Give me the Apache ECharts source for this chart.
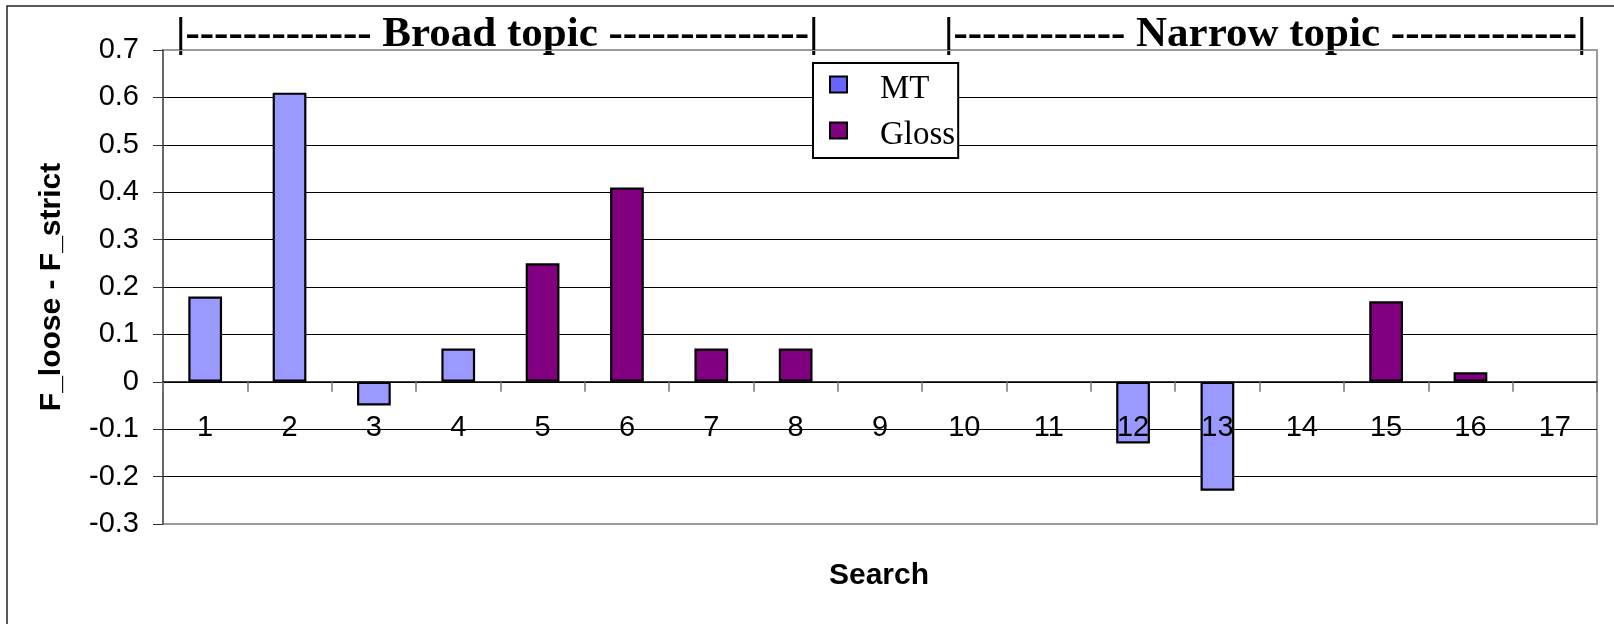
<!DOCTYPE html>
<html>
<head>
<meta charset="utf-8">
<script src="https://cdn.jsdelivr.net/npm/echarts@6/dist/echarts.min.js"></script>
<style>
  html, body { margin: 0; padding: 0; background: #fff; }
  #chart { width: 1614px; height: 624px; }
</style>
</head>
<body>
<div id="chart"></div>
<script>
// Search runs 1..17
const categories = ['1', '2', '3', '4', '5', '6', '7', '8', '9', '10', '11', '12', '13', '14', '15', '16', '17'];
// F_loose - F_strict per search (null = no bar)
const mtValues    = [0.18, 0.61, -0.05, 0.07, null, null, null, null, null, null, null, -0.13, -0.23, null, null, null, null];
const glossValues = [null, null, null, null, 0.25, 0.41, 0.07, 0.07, null, null, null, null, null, null, 0.17, 0.02, null];
const yTicks = { min: -0.3, max: 0.7, step: 0.1 };
const broadHeader  = '|------------- Broad topic --------------|';
const narrowHeader = '|------------ Narrow topic -------------|';

const SANS = '"Liberation Sans", Arial, sans-serif';
const SERIF = '"Liberation Serif", "Times New Roman", serif';

const GRID = { left: 163, top: 50, right: 17, bottom: 100 };
const PLOT_H = 624 - GRID.top - GRID.bottom;
// lift the category axis from the bottom edge up to the zero line
const zeroOffset = -PLOT_H * (0 - yTicks.min) / (yTicks.max - yTicks.min);

const chart = echarts.init(document.getElementById('chart'), null, { renderer: 'canvas' });

// eleven horizontal lines: frame-coloured at the two ends, black inside
const gridLineColors = [];
for (let i = 0; i <= 10; i++) gridLineColors.push(i === 0 || i === 10 ? '#9a9a9a' : '#000');

chart.setOption({
  animation: false,
  backgroundColor: '#fff',
  grid: Object.assign({}, GRID, {
    show: true, borderColor: '#9a9a9a', borderWidth: 2, backgroundColor: 'transparent'
  }),
  legend: {
    orient: 'vertical',
    left: 813, top: 63,
    backgroundColor: '#fff',
    borderColor: '#000', borderWidth: 2,
    padding: [10, 3, 6, 16],
    itemWidth: 17, itemHeight: 16, itemGap: 13,
    icon: 'rect',
    formatter: name => '{t|' + name + '}',
    textStyle: {
      fontFamily: SERIF, fontSize: 33, color: '#000',
      rich: { t: { fontFamily: SERIF, fontSize: 33, color: '#000', padding: [10, 0, 0, 28] } }
    },
    data: [
      { name: 'MT', itemStyle: { color: '#6666ff', borderColor: '#000', borderWidth: 2 } },
      { name: 'Gloss', itemStyle: { color: '#800080', borderColor: '#000', borderWidth: 2 } }
    ]
  },
  xAxis: {
    type: 'category',
    data: categories,
    z: 5,
    offset: zeroOffset,
    axisLine: { onZero: false, lineStyle: { color: '#000', width: 1.5 } },
    axisTick: { show: true, length: 10, lineStyle: { color: '#777', width: 1.5 } },
    axisLabel: { fontFamily: SANS, fontSize: 29, color: '#000', margin: 32 },
    splitLine: { show: false }
  },
  yAxis: {
    type: 'value',
    min: yTicks.min, max: yTicks.max, interval: yTicks.step,
    axisLine: { show: true, lineStyle: { color: '#555', width: 1.5 } },
    axisTick: { show: true, length: 10, lineStyle: { color: '#333', width: 1 } },
    axisLabel: {
      fontFamily: SANS, fontSize: 29, color: '#000', margin: 24,
      formatter: v => String(Math.round(v * 10) / 10)
    },
    splitLine: { show: true, lineStyle: { color: gridLineColors, width: 1.2 } }
  },
  series: [
    {
      type: 'bar', name: 'MT', data: mtValues,
      barWidth: '40%', barGap: '-100%',
      itemStyle: { color: '#9999ff', borderColor: '#000', borderWidth: 2.2 }
    },
    {
      type: 'bar', name: 'Gloss', data: glossValues,
      barWidth: '40%', barGap: '-100%',
      itemStyle: { color: '#800080', borderColor: '#000', borderWidth: 2.2 }
    }
  ],
  graphic: [
    {
      type: 'rect', silent: true, z: -10,
      shape: { x: 7, y: 6, width: 1640, height: 660 },
      style: { fill: 'none', stroke: '#222', lineWidth: 1.5 }
    },
    {
      type: 'text', silent: true, x: 176, y: 35,
      style: { text: broadHeader, font: 'bold 43px ' + SERIF, fill: '#000', textAlign: 'left', textVerticalAlign: 'middle' }
    },
    {
      type: 'text', silent: true, x: 944, y: 35,
      style: { text: narrowHeader, font: 'bold 43px ' + SERIF, fill: '#000', textAlign: 'left', textVerticalAlign: 'middle' }
    },
    {
      type: 'text', silent: true, x: 52, y: 287, rotation: Math.PI / 2,
      style: { text: 'F_loose - F_strict', font: 'bold 30px ' + SANS, fill: '#000', textAlign: 'center', textVerticalAlign: 'middle' }
    },
    {
      type: 'text', silent: true, x: 879, y: 576,
      style: { text: 'Search', font: 'bold 30px ' + SANS, fill: '#000', textAlign: 'center', textVerticalAlign: 'middle' }
    }
  ]
});
</script>
</body>
</html>
